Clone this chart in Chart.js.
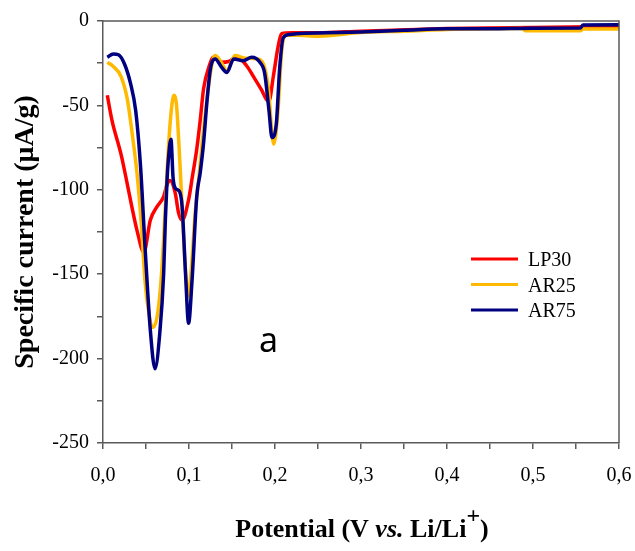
<!DOCTYPE html>
<html>
<head>
<meta charset="utf-8">
<script src="https://cdn.jsdelivr.net/npm/chart.js@4.4.1/dist/chart.umd.min.js"></script>
<style>
  body { margin: 0; background: #fff; }
  #chart { display: block; }
</style>
</head>
<body>
<canvas id="chart" width="635" height="551"></canvas>
<script>
// series names and colours
const seriesNames = ['LP30', 'AR25', 'AR75'];
const seriesColors = ['#ff0000', '#ffb900', '#000080'];

// LP30 : potential (V) / current (µA/g)
const lp30Potential = [0.005, 0.0105, 0.021, 0.028, 0.0335, 0.0395, 0.0475, 0.055, 0.0628, 0.0705, 0.0744, 0.078, 0.084, 0.088, 0.092, 0.0995, 0.104, 0.109, 0.113, 0.117, 0.123, 0.1285, 0.138, 0.146, 0.156, 0.167, 0.175, 0.1845, 0.19, 0.193, 0.198, 0.2035, 0.2075, 0.22, 0.25, 0.3, 0.4, 0.5, 0.6];
const lp30Current = [-44, -59, -79, -96, -110, -124, -137, -118, -110, -104, -97, -94.5, -102, -114, -118, -106, -92, -76, -59, -40, -27.5, -21.5, -24.5, -24, -21.5, -26.5, -33, -41, -46.5, -47.5, -33, -15.5, -7.5, -7, -7, -6, -4.5, -3.8, -3.2];

// AR25
const ar25Potential = [0.005, 0.011, 0.021, 0.0285, 0.034, 0.0395, 0.0445, 0.049, 0.053, 0.0575, 0.0635, 0.068, 0.072, 0.0755, 0.079, 0.0825, 0.0855, 0.0885, 0.0915, 0.095, 0.099, 0.103, 0.107, 0.111, 0.1185, 0.127, 0.1305, 0.137, 0.144, 0.1535, 0.165, 0.179, 0.1865, 0.192, 0.1985, 0.2035, 0.2075, 0.2115, 0.225, 0.25, 0.3, 0.35, 0.4, 0.45, 0.488, 0.491, 0.555, 0.558, 0.6];
const ar25Current = [-24.5, -26.5, -33, -47, -67, -90, -120, -155, -172, -181.5, -173.5, -150, -115, -80, -55, -44, -50, -75, -105, -140, -163, -145, -115, -95, -57, -24.5, -20.5, -24, -29.5, -20.5, -22, -22.5, -25.5, -39, -73, -53, -19.5, -8.5, -8.5, -9, -6.8, -6, -5, -4.6, -4.5, -5.8, -5.8, -4.8, -4.8];

// AR75
const ar75Potential = [0.005, 0.012, 0.018, 0.025, 0.032, 0.038, 0.0435, 0.049, 0.055, 0.0605, 0.066, 0.0705, 0.0725, 0.0745, 0.0765, 0.079, 0.0815, 0.084, 0.089, 0.092, 0.096, 0.0995, 0.1035, 0.109, 0.113, 0.117, 0.121, 0.125, 0.1305, 0.138, 0.144, 0.152, 0.163, 0.173, 0.1825, 0.188, 0.193, 0.1965, 0.2015, 0.2055, 0.2095, 0.217, 0.225, 0.26, 0.3, 0.35, 0.4, 0.45, 0.5, 0.555, 0.558, 0.6];
const ar75Current = [-21.5, -19.5, -20, -25.5, -37, -53, -85, -135, -183, -206, -185, -150, -118, -94, -79, -70, -93, -99, -101, -110, -150, -179, -154, -104, -90, -72, -47, -28, -22.5, -27.5, -30.5, -22.5, -23.5, -21.5, -24.5, -31, -53, -69, -61, -27.5, -10, -8, -7.5, -7, -6.5, -5.5, -4.6, -4.6, -4.3, -4.2, -2.3, -2.2];

// tick labels (ascending order, blank = minor tick)
const xTickLabels = ['0,0', '', '0,1', '', '0,2', '', '0,3', '', '0,4', '', '0,5', '', '0,6'];
const yTickLabels = ['-250', '', '-200', '', '-150', '', '-100', '', '-50', '', '0'];

const potentials = [lp30Potential, ar25Potential, ar75Potential];
const currents = [lp30Current, ar25Current, ar75Current];

function toPoints(xs, ys) {
    return xs.map((x, i) => ({ x: x, y: ys[i] }));
}

const datasets = seriesNames.map((name, i) => ({
    label: name,
    data: toPoints(potentials[i], currents[i]),
    borderColor: seriesColors[i],
    borderWidth: 3.5,
    pointRadius: 0,
    fill: false,
    cubicInterpolationMode: 'monotone',
    order: 2 - i  // AR75 on top
}));

const serif = '"Liberation Serif", "Times New Roman", serif';
const axisColor = '#5a5a5a';

// top/right frame, legend, x title and the "a" mark
const decorPlugin = {
    id: 'decor',
    afterDraw(chart) {
        const ctx = chart.ctx;
        const a = chart.chartArea;
        ctx.save();
        ctx.strokeStyle = axisColor;
        ctx.lineWidth = 1.5;
        ctx.beginPath();
        ctx.moveTo(a.left, a.top);
        ctx.lineTo(a.right, a.top);
        ctx.lineTo(a.right, a.bottom);
        ctx.stroke();

        // legend
        ctx.font = '20px ' + serif;
        ctx.fillStyle = '#000';
        ctx.textBaseline = 'alphabetic';
        seriesNames.forEach((name, i) => {
            const y = 259 + i * 25.5;
            ctx.strokeStyle = seriesColors[i];
            ctx.lineWidth = 3;
            ctx.beginPath();
            ctx.moveTo(471, y);
            ctx.lineTo(518, y);
            ctx.stroke();
            ctx.fillText(name, 528, y + 7);
        });

        // panel letter
        ctx.font = '34px "Noto Sans", sans-serif';
        ctx.fillText('a', 259, 352);

        // x axis title with italic "vs." and superscript "+"
        const parts = [
            { t: 'Potential (V ', f: 'bold 26px ' + serif, dy: 0 },
            { t: 'vs.', f: 'italic bold 26px ' + serif, dy: 0 },
            { t: ' Li/Li', f: 'bold 26px ' + serif, dy: 0 },
            { t: '+', f: 'bold 24px ' + serif, dy: -14 },
            { t: ')', f: 'bold 26px ' + serif, dy: 0 }
        ];
        let total = 0;
        parts.forEach((p) => { ctx.font = p.f; p.w = ctx.measureText(p.t).width; total += p.w; });
        let x = 362 - total / 2;
        parts.forEach((p) => {
            ctx.font = p.f;
            ctx.fillText(p.t, x, 537 + p.dy);
            x += p.w;
        });
        ctx.restore();
    }
};

const config = {
    type: 'line',
    data: { datasets: datasets },
    options: {
        responsive: false,
        animation: false,
        layout: { autoPadding: false, padding: { top: 21, right: 16, left: 0, bottom: 0 } },
        plugins: {
            legend: { display: false },
            tooltip: { enabled: false }
        },
        scales: {
            x: {
                type: 'linear',
                min: 0,
                max: 0.6,
                afterFit: (scale) => {
                    scale.height = 108;
                    scale.paddingLeft = 0;
                    scale.paddingRight = 0;
                },
                border: { color: axisColor, width: 1.5 },
                grid: { drawOnChartArea: false, drawTicks: true, tickLength: 6, color: axisColor, lineWidth: 1.5 },
                ticks: {
                    stepSize: 0.05,
                    autoSkip: false,
                    maxRotation: 0,
                    padding: 15,
                    color: '#000',
                    font: { family: serif, size: 20 },
                    callback: (value, index) => xTickLabels[index]
                }
            },
            y: {
                min: -250,
                max: 0,
                afterFit: (scale) => {
                    scale.width = 103;
                    scale.paddingTop = 0;
                    scale.paddingBottom = 0;
                },
                border: { color: axisColor, width: 1.5 },
                grid: { drawOnChartArea: false, drawTicks: true, tickLength: 6, color: axisColor, lineWidth: 1.5 },
                ticks: {
                    stepSize: 25,
                    autoSkip: false,
                    padding: 8,
                    color: '#000',
                    font: { family: serif, size: 20 },
                    callback: (value, index) => yTickLabels[index]
                },
                title: {
                    display: true,
                    text: 'Specific current (μA/g)',
                    color: '#000',
                    font: { family: serif, size: 28, weight: 'bold' },
                    padding: { top: 9, bottom: 0 }
                }
            }
        }
    },
    plugins: [decorPlugin]
};

const ctx = document.getElementById('chart').getContext('2d');
const myChart = new Chart(ctx, config);
</script>
</body>
</html>
